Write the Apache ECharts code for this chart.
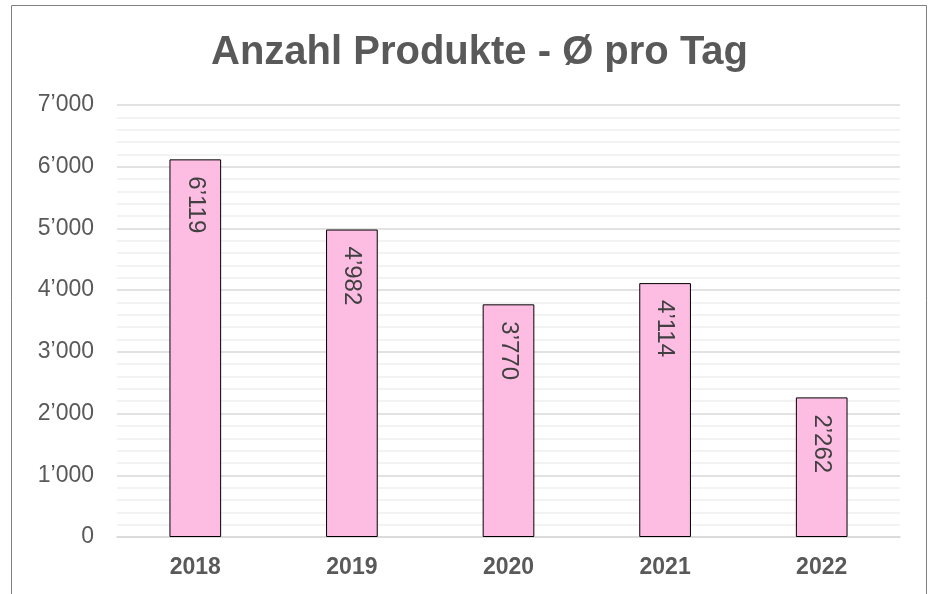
<!DOCTYPE html>
<html>
<head>
<meta charset="utf-8">
<script src="https://cdn.jsdelivr.net/npm/echarts@6/dist/echarts.min.js"></script>
<style>
  body { margin: 0; background: #fff; }
  #chart { width: 935px; height: 594px; }
</style>
</head>
<body>
<div id="chart"></div>
<script>
  var years = ['2018', '2019', '2020', '2021', '2022'];
  var produkte = [6119, 4982, 3770, 4114, 2262];

  function swiss(v) {
    return String(v).replace(/\B(?=(\d{3})+(?!\d))/g, '\u2019');
  }

  var chart = echarts.init(document.getElementById('chart'));
  chart.setOption({
    animation: false,
    textStyle: { fontFamily: 'Liberation Sans, Arial, sans-serif' },
    title: {
      text: 'Anzahl Produkte - Ø pro Tag',
      left: 206,
      top: 28,
      textStyle: { fontSize: 40, fontWeight: 'bold', color: '#595959' }
    },
    graphic: [{
      type: 'rect',
      shape: { x: 11.5, y: 5.5, width: 915, height: 620 },
      style: { fill: 'none', stroke: '#7f7f7f', lineWidth: 1 },
      silent: true
    }],
    grid: { left: 117, right: 35, top: 105, bottom: 57 },
    xAxis: {
      type: 'category',
      data: years,
      axisLine: { lineStyle: { color: '#d9d9d9', width: 1.5 } },
      axisTick: { show: false },
      axisLabel: { fontSize: 23, fontWeight: 'bold', color: '#595959', margin: 19 }
    },
    yAxis: {
      type: 'value',
      min: 0,
      max: 7000,
      interval: 1000,
      axisLabel: {
        fontSize: 23, color: '#595959', margin: 23,
        formatter: function (v) { return swiss(v); }
      },
      splitLine: { lineStyle: { color: '#d9d9d9', width: 1.5 } },
      minorTick: { show: false, splitNumber: 5 },
      minorSplitLine: { show: true, lineStyle: { color: '#f0f0f0', width: 1.5 } }
    },
    series: [{
      type: 'bar',
      data: produkte,
      barWidth: '33%',
      itemStyle: { color: '#fdbde3', borderColor: '#000', borderWidth: 1 },
      label: {
        show: true,
        position: 'insideTop',
        rotate: -90,
        align: 'left',
        verticalAlign: 'middle',
        distance: 17,
        fontSize: 24,
        color: '#404040',
        formatter: function (p) { return swiss(p.value); }
      }
    }]
  });
</script>
</body>
</html>
